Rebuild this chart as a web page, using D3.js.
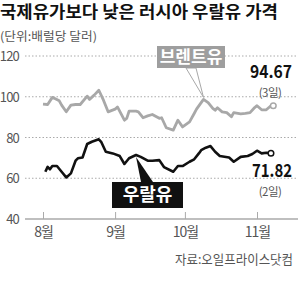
<!DOCTYPE html>
<html>
<head>
<meta charset="utf-8">
<script src="https://cdn.jsdelivr.net/npm/d3@7"></script>
<style>
  body { margin: 0; background: #fff; }
  text { font-family: "Noto Sans CJK KR", "Noto Sans", sans-serif; }
</style>
</head>
<body>
<script>
var w = 300;
var h = 293;

// 2022, 일자별 (배럴당 달러)
var brentDates = ["08-01","08-03","08-05","08-08","08-09","08-11","08-13","08-15","08-17","08-20",
  "08-21","08-23","08-25","08-27","08-29","09-01","09-02","09-05","09-06","09-07","09-10","09-11",
  "09-13","09-15","09-17","09-20","09-21","09-23","09-26","09-28","09-30","10-03","10-05","10-06",
  "10-09","10-11","10-13","10-14","10-15","10-17","10-19","10-21","10-22","10-25","10-27","10-29",
  "10-31","11-01","11-03","11-05","11-07","11-08"];
var brentVals = [96.4,96.2,99.7,98.0,95.9,92.6,95.9,96.2,96.2,100.3,
  98.7,100.8,103.2,98.3,92.6,93.9,95.0,88.5,89.4,92.9,92.9,92.6,
  89.7,90.6,91.3,89.4,89.7,84.8,83.6,88.5,85.2,87.7,91.8,93.9,
  98.7,97.1,94.3,93.4,94.6,92.6,92.2,90.2,92.2,91.6,91.8,92.2,
  94.7,95.6,93.6,93.6,95.6,95.6];

var uralsDates = ["08-02","08-03","08-04","08-05","08-07","08-09","08-11","08-13","08-15","08-16",
  "08-18","08-20","08-22","08-25","08-26","08-28","08-31","09-03","09-05","09-07","09-10","09-12",
  "09-15","09-17","09-20","09-22","09-26","09-28","09-30","10-03","10-05","10-07","10-08","10-10",
  "10-12","10-14","10-16","10-20","10-22","10-25","10-28","10-30","11-01","11-03","11-05","11-07"];
var uralsVals = [63.2,65.6,64.4,66.0,66.0,63.2,60.4,62.4,68.6,69.8,
  70.2,76.8,77.9,79.1,77.9,73.0,72.2,70.9,67.0,69.8,71.4,70.5,
  68.6,68.6,68.9,65.5,63.2,66.0,66.0,68.1,69.3,72.2,73.8,75.0,
  75.8,73.0,70.9,70.2,68.1,70.5,70.9,71.9,73.5,72.2,72.5,72.3];

var yTicks = [40, 60, 80, 100, 120];
var monthTicks = ["08-01", "09-01", "10-01", "11-01"];
var monthLabels = ["8월", "9월", "10월", "11월"];

var parse = d3.timeParse("%Y-%m-%d");
function day(s) { return parse("2022-" + s); }

var brent = brentDates.map(function(d, i) { return {date: day(d), v: brentVals[i]}; });
var urals = uralsDates.map(function(d, i) { return {date: day(d), v: uralsVals[i]}; });

var x = d3.scaleTime()
          .domain([day("08-01"), day("11-01")])
          .range([43, 257]);
var y = d3.scaleLinear()
          .domain([40, 120])
          .range([219, 56]);

var svg = d3.select("body")
            .append("svg")
              .attr("width", w)
              .attr("height", h);

// title
svg.append("text")
    .text("국제유가보다 낮은 러시아 우랄유 가격")
    .attr("x", 0)
    .attr("y", 18)
    .attr("font-size", "16.5px")
    .attr("font-weight", "bold")
    .attr("fill", "#111")
    .attr("textLength", 278)
    .attr("lengthAdjust", "spacingAndGlyphs");

svg.append("text")
    .text("(단위:배럴당 달러)")
    .attr("x", 0)
    .attr("y", 41)
    .attr("font-size", "12px")
    .attr("fill", "#555")
    .attr("textLength", 97)
    .attr("lengthAdjust", "spacingAndGlyphs");

// grid
svg.selectAll("line.grid")
   .data(yTicks.filter(function(d) { return d > 40; }))
   .enter()
   .append("line")
     .attr("class", "grid")
     .attr("x1", 25)
     .attr("x2", 298)
     .attr("y1", function(d) { return y(d); })
     .attr("y2", function(d) { return y(d); })
     .attr("stroke", "#aaa")
     .attr("stroke-width", 1)
     .attr("stroke-dasharray", "1.5,2");

svg.append("line")
    .attr("x1", 25)
    .attr("x2", 298)
    .attr("y1", y(40))
    .attr("y2", y(40))
    .attr("stroke", "#aaa")
    .attr("stroke-width", 1.5);

svg.selectAll("text.ylab")
   .data(yTicks)
   .enter()
   .append("text")
     .attr("class", "ylab")
     .text(function(d) { return d; })
     .attr("x", 19)
     .attr("y", function(d) { return y(d) + 5; })
     .attr("text-anchor", "end")
     .attr("font-size", "13px")
     .attr("letter-spacing", "-0.8px")
     .attr("fill", "#555");

// month ticks
var xAxis = d3.axisBottom(x)
              .tickValues(monthTicks.map(day))
              .tickSize(7)
              .tickFormat(function(d, i) { return monthLabels[i]; });

var gx = svg.append("g")
            .attr("transform", "translate(0," + (y(40) - 7) + ")")
            .call(xAxis);
gx.select(".domain").remove();
gx.selectAll(".tick line").attr("stroke", "#aaa");
gx.selectAll(".tick text")
  .attr("y", 15)
  .attr("font-size", "14px")
  .attr("font-family", "Noto Sans CJK KR")
  .attr("letter-spacing", "-1px")
  .attr("fill", "#555");

// lines
var line = d3.line()
             .x(function(d) { return x(d.date); })
             .y(function(d) { return y(d.v); });

svg.append("path")
    .datum(brent)
    .attr("d", line)
    .attr("fill", "none")
    .attr("stroke", "#a8a8a8")
    .attr("stroke-width", 2.8)
    .attr("stroke-linejoin", "round");

svg.append("path")
    .datum(urals)
    .attr("d", line)
    .attr("fill", "none")
    .attr("stroke", "#111")
    .attr("stroke-width", 2.6)
    .attr("stroke-linejoin", "round");

var lastB = brent[brent.length - 1];
var lastU = urals[urals.length - 1];

svg.append("circle")
    .attr("cx", x(lastB.date))
    .attr("cy", y(lastB.v))
    .attr("r", 2.8)
    .attr("fill", "#fff")
    .attr("stroke", "#a8a8a8")
    .attr("stroke-width", 1.5);

svg.append("circle")
    .attr("cx", x(lastU.date))
    .attr("cy", y(lastU.v))
    .attr("r", 2.8)
    .attr("fill", "#fff")
    .attr("stroke", "#111")
    .attr("stroke-width", 1.5);

// callout: 브렌트유
var peakB = brent[34];
svg.append("path")
    .attr("d", "M186,68 L" + x(peakB.date) + "," + (y(peakB.v) - 2) + " L196,68 Z")
    .attr("fill", "#fff")
    .attr("stroke", "#a8a8a8")
    .attr("stroke-width", 1);
svg.append("rect")
    .attr("x", 157)
    .attr("y", 46)
    .attr("width", 68)
    .attr("height", 22)
    .attr("fill", "#9e9e9e");
svg.append("text")
    .text("브렌트유")
    .attr("x", 191)
    .attr("y", 63)
    .attr("text-anchor", "middle")
    .attr("font-size", "17px")
    .attr("font-weight", "bold")
    .attr("fill", "#fff");

// callout: 우랄유
var ptU = urals[20];
svg.append("path")
    .attr("d", "M" + x(ptU.date) + "," + (y(ptU.v) + 2) + " L141,182 L153,182 Z")
    .attr("fill", "#111");
svg.append("rect")
    .attr("x", 112)
    .attr("y", 182)
    .attr("width", 71)
    .attr("height", 26)
    .attr("fill", "#111");
svg.append("text")
    .text("우랄유")
    .attr("x", 147.5)
    .attr("y", 201)
    .attr("text-anchor", "middle")
    .attr("font-size", "18px")
    .attr("font-weight", "bold")
    .attr("fill", "#fff");

// end values
svg.append("text")
    .text("94.67")
    .attr("x", 292)
    .attr("y", 78)
    .attr("text-anchor", "end")
    .attr("font-size", "17px")
    .attr("font-weight", "bold")
    .attr("font-family", "Liberation Sans Narrow, Liberation Sans, sans-serif")
    .attr("textLength", 42)
    .attr("lengthAdjust", "spacingAndGlyphs")
    .attr("fill", "#111");
svg.append("text")
    .text("(3일)")
    .attr("x", 270)
    .attr("y", 97)
    .attr("text-anchor", "middle")
    .attr("font-size", "11.5px")
    .attr("letter-spacing", "-0.5px")
    .attr("fill", "#555");

svg.append("text")
    .text("71.82")
    .attr("x", 292)
    .attr("y", 177)
    .attr("text-anchor", "end")
    .attr("font-size", "18px")
    .attr("font-weight", "bold")
    .attr("font-family", "Liberation Sans Narrow, Liberation Sans, sans-serif")
    .attr("textLength", 40)
    .attr("lengthAdjust", "spacingAndGlyphs")
    .attr("fill", "#111");
svg.append("text")
    .text("(2일)")
    .attr("x", 270)
    .attr("y", 196)
    .attr("text-anchor", "middle")
    .attr("font-size", "11.5px")
    .attr("letter-spacing", "-0.5px")
    .attr("fill", "#555");

// source
svg.append("text")
    .text("자료:오일프라이스닷컴")
    .attr("x", 293)
    .attr("y", 264)
    .attr("text-anchor", "end")
    .attr("font-size", "13px")
    .attr("fill", "#555")
    .attr("textLength", 118)
    .attr("lengthAdjust", "spacingAndGlyphs");
</script>
</body>
</html>
